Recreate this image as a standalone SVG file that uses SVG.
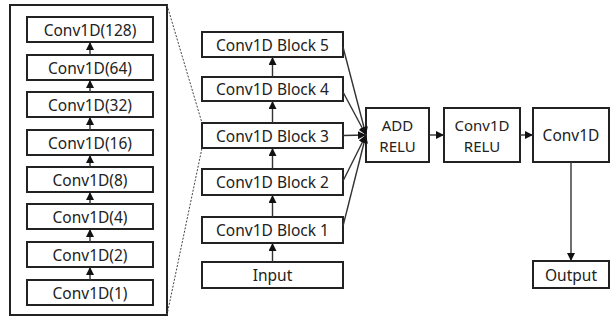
<svg xmlns="http://www.w3.org/2000/svg" width="613" height="320" viewBox="0 0 613 320">
<defs>
<style>
.box{fill:#fff;stroke:#222;stroke-width:2}
.t{font-family:"Noto Sans","Noto Sans CJK KR",sans-serif;font-size:15.5px;fill:#222;text-anchor:middle;dominant-baseline:central}
.t2{font-size:15px}
.c{stroke:#333;stroke-width:1.4;fill:none}
.d{stroke:#444;stroke-width:1;fill:none;stroke-dasharray:2 1.5}
</style>
<marker id="ah" viewBox="0 0 10 10" refX="10" refY="5" markerWidth="8" markerHeight="8" markerUnits="userSpaceOnUse" orient="auto">
<path d="M0,0 L10,5 L0,10 z" fill="#111"/>
</marker>
</defs>
<rect id="frame" x="10" y="5" width="157" height="310" fill="#fff" stroke="#222" stroke-width="2"/>
<g id="n128"><rect class="box" x="27" y="17" width="126" height="25"/><text class="t" x="90" y="29.5">Conv1D(128)</text></g>
<g id="n64"><rect class="box" x="27" y="55" width="126" height="25"/><text class="t" x="90" y="67.5">Conv1D(64)</text></g>
<g id="n32"><rect class="box" x="27" y="92" width="126" height="25"/><text class="t" x="90" y="104.5">Conv1D(32)</text></g>
<g id="n16"><rect class="box" x="27" y="130" width="126" height="25"/><text class="t" x="90" y="142.5">Conv1D(16)</text></g>
<g id="n8"><rect class="box" x="27" y="167" width="126" height="25"/><text class="t" x="90" y="179.5">Conv1D(8)</text></g>
<g id="n4"><rect class="box" x="27" y="204" width="126" height="25"/><text class="t" x="90" y="216.5">Conv1D(4)</text></g>
<g id="n2"><rect class="box" x="27" y="242" width="126" height="25"/><text class="t" x="90" y="254.5">Conv1D(2)</text></g>
<g id="n1"><rect class="box" x="27" y="280" width="126" height="25"/><text class="t" x="90" y="292.5">Conv1D(1)</text></g>
<g id="b5"><rect class="box" x="202" y="32" width="141" height="25"/><text class="t" x="272.5" y="44.5">Conv1D Block 5</text></g>
<g id="b4"><rect class="box" x="202" y="77" width="141" height="24"/><text class="t" x="272.5" y="89">Conv1D Block 4</text></g>
<g id="b3"><rect class="box" x="202" y="123" width="141" height="25"/><text class="t" x="272.5" y="135.5">Conv1D Block 3</text></g>
<g id="b2"><rect class="box" x="202" y="169" width="141" height="26"/><text class="t" x="272.5" y="182">Conv1D Block 2</text></g>
<g id="b1"><rect class="box" x="202" y="217" width="141" height="26"/><text class="t" x="272.5" y="230">Conv1D Block 1</text></g>
<g id="input"><rect class="box" x="202" y="262" width="141" height="26"/><text class="t" x="272.5" y="275">Input</text></g>
<g id="add"><rect class="box" x="366" y="108" width="63" height="54"/><text class="t t2" x="397.5" y="125">ADD</text><text class="t t2" x="397.5" y="146">RELU</text></g>
<g id="convrelu"><rect class="box" x="444" y="108" width="76" height="54"/><text class="t t2" x="482" y="125">Conv1D</text><text class="t t2" x="482" y="146">RELU</text></g>
<g id="conv"><rect class="box" x="533" y="108" width="76" height="54"/><text class="t" x="571" y="135">Conv1D</text></g>
<g id="output"><rect class="box" x="533" y="261" width="76" height="27"/><text class="t" x="571" y="274.5">Output</text></g>
<g id="connectors">
<line class="d" x1="167" y1="5" x2="202" y2="123"/>
<line class="d" x1="167" y1="315" x2="202" y2="148"/>
<line class="c" x1="90" y1="55" x2="90" y2="42" marker-end="url(#ah)"/>
<line class="c" x1="90" y1="92" x2="90" y2="80" marker-end="url(#ah)"/>
<line class="c" x1="90" y1="130" x2="90" y2="117" marker-end="url(#ah)"/>
<line class="c" x1="90" y1="167" x2="90" y2="155" marker-end="url(#ah)"/>
<line class="c" x1="90" y1="204" x2="90" y2="192" marker-end="url(#ah)"/>
<line class="c" x1="90" y1="242" x2="90" y2="229" marker-end="url(#ah)"/>
<line class="c" x1="90" y1="280" x2="90" y2="267" marker-end="url(#ah)"/>
<line class="c" x1="272.5" y1="77" x2="272.5" y2="57" marker-end="url(#ah)"/>
<line class="c" x1="272.5" y1="123" x2="272.5" y2="101" marker-end="url(#ah)"/>
<line class="c" x1="272.5" y1="169" x2="272.5" y2="148" marker-end="url(#ah)"/>
<line class="c" x1="272.5" y1="217" x2="272.5" y2="195" marker-end="url(#ah)"/>
<line class="c" x1="272.5" y1="262" x2="272.5" y2="243" marker-end="url(#ah)"/>
<line class="c" x1="343" y1="47" x2="366" y2="135" marker-end="url(#ah)"/>
<line class="c" x1="343" y1="92" x2="366" y2="135" marker-end="url(#ah)"/>
<line class="c" x1="343" y1="135.5" x2="366" y2="135" marker-end="url(#ah)"/>
<line class="c" x1="343" y1="181" x2="366" y2="135" marker-end="url(#ah)"/>
<line class="c" x1="343" y1="226" x2="366" y2="135" marker-end="url(#ah)"/>
<line class="c" x1="429" y1="135" x2="444" y2="135" marker-end="url(#ah)"/>
<line class="c" x1="520" y1="135" x2="533" y2="135" marker-end="url(#ah)"/>
<line class="c" x1="571" y1="162" x2="571" y2="261" marker-end="url(#ah)"/>
</g>
</svg>
